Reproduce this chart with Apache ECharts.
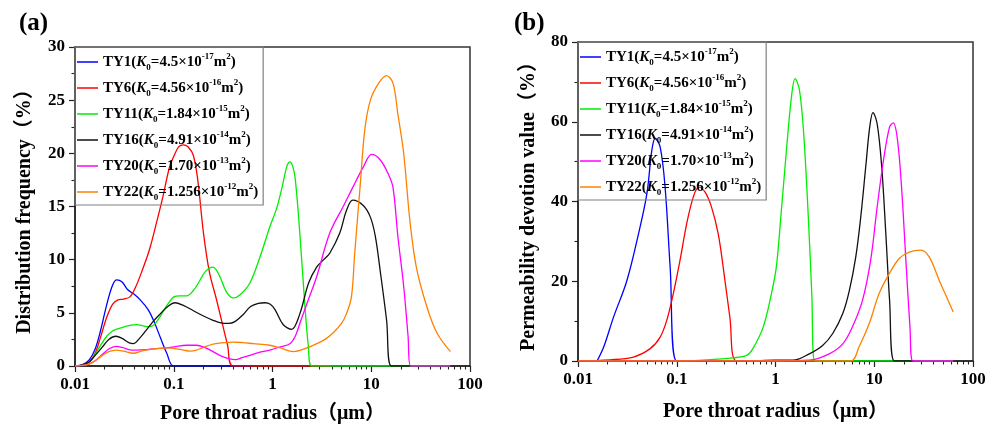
<!DOCTYPE html>
<html>
<head>
<meta charset="utf-8">
<script src="https://cdn.jsdelivr.net/npm/echarts@6/dist/echarts.min.js"></script>
<style>html,body{margin:0;padding:0;background:#fff}#c{width:997px;height:425px}</style>
</head>
<body>
<div id="c"></div>
<script>
// ---------- DATA ----------
const names = ['TY1', 'TY6', 'TY11', 'TY16', 'TY20', 'TY22'];
const legendK = {
  TY1: ['4.5', '-17'], TY6: ['4.56', '-16'], TY11: ['1.84', '-15'],
  TY16: ['4.91', '-14'], TY20: ['1.70', '-13'], TY22: ['1.256', '-12']
};
const xTickLabels = ['0.01', '0.1', '1', '10', '100'];
const minorXTicks = [0.02,0.03,0.04,0.05,0.06,0.07,0.08,0.09,0.2,0.3,0.4,0.5,0.6,0.7,0.8,0.9,2,3,4,5,6,7,8,9,20,30,40,50,60,70,80,90];

// (a) Distribution frequency (%)
const ty1A = [[0.01,0],[0.012,0.15],[0.014,0.6],[0.016,1.6],[0.018,3.2],[0.021,5.8],[0.024,7.6],[0.0265,8.1],[0.03,7.9],[0.034,7.2],[0.039,6.8],[0.046,6.2],[0.055,5.3],[0.063,4.2],[0.073,2.7],[0.085,1.2],[0.1,0],[0.2,0],[0.6,0]];
const ty6A = [[0.01,0],[0.012,0.1],[0.014,0.4],[0.016,1.2],[0.018,2.6],[0.021,4.6],[0.024,5.8],[0.027,6.2],[0.031,6.3],[0.036,6.5],[0.041,7.4],[0.048,9.0],[0.057,11.0],[0.067,13.5],[0.078,16.0],[0.09,18.6],[0.1,19.7],[0.112,20.6],[0.125,20.8],[0.14,20.6],[0.158,19.8],[0.175,17.5],[0.2,12.5],[0.23,8.8],[0.27,6.3],[0.31,4.0],[0.35,2.0],[0.4,0],[1,0],[4,0]];
const ty11A = [[0.01,0],[0.012,0.1],[0.014,0.4],[0.016,1.1],[0.018,1.9],[0.021,2.8],[0.024,3.3],[0.027,3.5],[0.032,3.7],[0.037,3.85],[0.042,3.9],[0.048,3.8],[0.055,3.7],[0.062,3.8],[0.07,4.4],[0.08,5.3],[0.09,6.0],[0.1,6.5],[0.115,6.6],[0.135,6.6],[0.158,7.1],[0.18,7.9],[0.21,8.9],[0.25,9.3],[0.29,8.5],[0.34,7.0],[0.4,6.4],[0.47,6.7],[0.59,7.8],[0.75,10.3],[0.94,13.1],[1.1,14.8],[1.25,16.8],[1.4,18.8],[1.5,19.2],[1.6,18.8],[1.7,17.6],[1.89,12.5],[2.12,5.9],[2.3,2.0],[2.5,0],[10,0],[63,0]];
const ty16A = [[0.01,0],[0.012,0.1],[0.014,0.4],[0.016,1.0],[0.019,1.8],[0.022,2.5],[0.026,2.8],[0.03,2.6],[0.035,2.2],[0.039,2.1],[0.045,2.6],[0.052,3.3],[0.062,4.2],[0.073,4.9],[0.087,5.6],[0.103,5.95],[0.125,5.7],[0.158,5.2],[0.2,4.7],[0.25,4.3],[0.3,4.05],[0.36,4.0],[0.42,4.2],[0.5,4.8],[0.6,5.6],[0.72,5.9],[0.84,5.95],[0.95,5.8],[1.06,5.3],[1.28,3.9],[1.56,3.45],[1.89,4.9],[2.32,7.8],[2.8,9.3],[3.3,10.0],[3.8,10.6],[4.8,12.5],[5.6,14.6],[6.5,15.6],[8.3,15.1],[9.8,14.0],[11.0,12.2],[12.3,9.0],[14.3,4.3],[16,0],[25,0]];
const ty20A = [[0.01,0],[0.012,0.05],[0.014,0.2],[0.016,0.5],[0.019,1.1],[0.022,1.6],[0.026,1.85],[0.03,1.75],[0.035,1.55],[0.042,1.5],[0.055,1.55],[0.073,1.65],[0.1,1.8],[0.135,1.95],[0.17,1.95],[0.21,1.7],[0.25,1.35],[0.3,0.95],[0.36,0.7],[0.42,0.6],[0.5,0.8],[0.59,1.0],[0.75,1.3],[0.94,1.5],[1.2,1.8],[1.5,2.1],[1.7,2.8],[1.89,4.0],[2.3,6.2],[2.8,8.4],[3.8,12.5],[5.2,15.0],[6.5,16.8],[8.3,18.7],[10.1,19.9],[12.3,19.4],[14.8,18.1],[16.6,16.8],[18.6,12.2],[21.3,7.5],[23.6,2.8],[25,0],[63,0]];
const ty22A = [[0.01,0],[0.012,0.05],[0.014,0.2],[0.016,0.5],[0.019,1.0],[0.022,1.35],[0.026,1.5],[0.031,1.4],[0.039,1.2],[0.047,1.4],[0.055,1.55],[0.07,1.65],[0.085,1.7],[0.1,1.65],[0.125,1.5],[0.146,1.4],[0.17,1.5],[0.2,1.75],[0.25,2.05],[0.32,2.2],[0.4,2.25],[0.5,2.2],[0.64,2.1],[0.94,1.95],[1.2,1.7],[1.63,1.35],[2.1,1.6],[2.8,2.1],[3.4,2.5],[4.1,3.1],[5.0,4.0],[5.6,4.9],[6.3,6.5],[6.8,10.6],[7.7,16.8],[8.6,22.2],[9.8,25.0],[11.9,26.6],[14.3,27.3],[16.6,26.6],[18.6,23.7],[21.3,20.0],[24.6,13.7],[28.6,9.3],[36.5,5.6],[46.3,3.1],[63.3,1.35]];

// (b) Permeability devotion value (%)
const ty1B = [[0.0156,0],[0.0182,3.5],[0.0229,11],[0.0313,20.2],[0.041,31.9],[0.0498,41.9],[0.0559,52.8],[0.0604,55.8],[0.0679,53.7],[0.0762,43.6],[0.0857,23.6],[0.1,0],[0.3,0]];
const ty6B = [[0.01,0],[0.021,0.3],[0.0365,1.0],[0.0538,3.1],[0.0679,6.0],[0.0792,10.2],[0.0923,16.9],[0.108,25.3],[0.126,34.4],[0.147,41.1],[0.167,43.6],[0.193,42.4],[0.225,38.6],[0.263,31.9],[0.295,23.6],[0.345,11.0],[0.403,0],[1,0]];
const ty11B = [[0.01,0],[0.1,0],[0.2,0.3],[0.37,0.8],[0.51,1.4],[0.59,3.1],[0.75,8.5],[0.91,16.9],[1.02,23.6],[1.14,37],[1.29,52.8],[1.45,66.2],[1.58,70.8],[1.75,67.9],[1.93,57],[2.15,36],[2.33,16.9],[2.5,0],[10,0],[63,0]];
const ty16B = [[0.01,0],[0.5,0],[1.0,0.2],[1.5,0.2],[2.2,1.8],[3.0,3.9],[3.8,6.9],[4.8,11.9],[5.6,17.7],[6.5,26.1],[7.3,36.1],[8.2,48.7],[9.0,58.7],[9.7,62.3],[10.7,59.5],[11.9,48.7],[13.1,31.9],[14.3,15.2],[16,0],[25,0]];
const ty20B = [[0.01,0],[1,0],[2.2,0.2],[3.5,1.8],[4.8,4.3],[6.0,8.5],[7.6,15.2],[9.2,25.3],[10.7,38.6],[12.4,50.3],[14.3,58.7],[15.6,59.7],[17.2,55.4],[18.9,43.6],[20.9,25.3],[23,8.5],[24.6,0],[63,0]];
const ty22B = [[0.01,0],[2,0],[5.8,0],[7.0,3.5],[8.9,9.4],[11.2,16.9],[14.2,21.9],[17.9,25.7],[22.6,27.3],[29.6,27.8],[36,26.1],[45.5,20.2],[56,15.2],[63,12.3]];

const seriesA = [ty1A, ty6A, ty11A, ty16A, ty20A, ty22A];
const seriesB = [ty1B, ty6B, ty11B, ty16B, ty20B, ty22B];
const colors = ['#0000ff', '#ff0000', '#00ee00', '#111111', '#ff00ff', '#ff8000'];

// ---------- CHART ----------
const FONT = '"Liberation Serif","Times New Roman","Noto Sans CJK SC",serif';
const chart = echarts.init(document.getElementById('c'), null, { renderer: 'canvas' });

const gridA = { left: 75, right: 527, top: 47, bottom: 59, outerBoundsMode: 'none', containLabel: false };
const gridB = { left: 578, right: 24, top: 42, bottom: 64, outerBoundsMode: 'none', containLabel: false };

function mainX(gi, nameGap) {
  return {
    type: 'log', logBase: 10, min: 0.01, max: 100, gridIndex: gi,
    name: 'Pore throat radius（μm）', nameLocation: 'middle', nameGap: nameGap,
    nameTextStyle: { fontFamily: FONT, fontWeight: 'bold', fontSize: 20, color: '#000' },
    axisLine: { show: true, lineStyle: { color: '#222', width: 1.5 } },
    axisTick: { show: true, inside: false, length: 6, lineStyle: { color: '#222', width: 1.2 } },
    minorTick: { show: false },
    axisLabel: {
      margin: 10, fontFamily: FONT, fontWeight: 'bold', fontSize: 17, color: '#000',
      formatter: function (v) {
        const idx = Math.round(Math.log10(v)) + 2;
        return xTickLabels[idx] !== undefined ? xTickLabels[idx] : '';
      }
    },
    splitLine: { show: false }
  };
}
function minorX(gi) {
  return {
    type: 'value', min: -2, max: 2, gridIndex: gi,
    axisLine: { show: false },
    axisTick: { show: true, inside: false, length: 3.5, customValues: minorXTicks.map(v => Math.log10(v)), lineStyle: { color: '#222', width: 1.1 } },
    axisLabel: { show: false },
    splitLine: { show: false }
  };
}
function mainY(gi, max, interval, name, nameGap) {
  return {
    type: 'value', min: 0, max: max, interval: interval, gridIndex: gi,
    name: name, nameLocation: 'middle', nameGap: nameGap,
    nameTextStyle: { fontFamily: FONT, fontWeight: 'bold', fontSize: 20, color: '#000' },
    axisLine: { show: true, lineStyle: { color: '#222', width: 1.5 } },
    axisTick: { show: true, inside: false, length: 6, lineStyle: { color: '#222', width: 1.2 } },
    minorTick: { show: true, splitNumber: 2, length: 3.5, lineStyle: { color: '#222', width: 1.1 } },
    axisLabel: { margin: 10, fontFamily: FONT, fontWeight: 'bold', fontSize: 17, color: '#000' },
    splitLine: { show: false }
  };
}
function hiddenY(gi) {
  return { type: 'value', min: 0, max: 1, gridIndex: gi, show: false };
}

const rich = {
  n: { fontFamily: FONT, fontWeight: 'bold', fontSize: 15, lineHeight: 20, color: '#000' },
  k: { fontFamily: FONT, fontWeight: 'bold', fontStyle: 'italic', fontSize: 15, lineHeight: 20, color: '#000' },
  sb: { fontFamily: FONT, fontWeight: 'bold', fontSize: 9, lineHeight: 9, verticalAlign: 'bottom', color: '#000' },
  sp: { fontFamily: FONT, fontWeight: 'bold', fontSize: 9, lineHeight: 9, verticalAlign: 'top', color: '#000' }
};
function legendFmt(name) {
  const k = legendK[name];
  return '{n|' + name + '(}{k|K}{sb|0}{n|=' + k[0] + '×10}{sp|' + k[1] + '}{n|m}{sp|2}{n|)}';
}
function legendAt(left, top) {
  return {
    data: names, orient: 'vertical', left: left, top: top,
    icon: 'rect', itemWidth: 21, itemHeight: 1.5, itemGap: 6,
    padding: [5, 5, 3, 2],
    borderColor: '#808080', borderWidth: 1.2, backgroundColor: 'transparent',
    formatter: legendFmt,
    textStyle: { rich: rich }
  };
}

const series = [];
seriesA.forEach(function (d, i) {
  series.push({ name: names[i], type: 'line', xAxisIndex: 0, yAxisIndex: 0, data: d,
    smooth: 0.35, showSymbol: false, symbol: 'none', color: colors[i],
    lineStyle: { width: 1.3, color: colors[i] } });
});
seriesB.forEach(function (d, i) {
  series.push({ name: names[i], type: 'line', xAxisIndex: 2, yAxisIndex: 2, data: d,
    smooth: 0.35, showSymbol: false, symbol: 'none', color: colors[i],
    lineStyle: { width: 1.3, color: colors[i] } });
});

const option = {
  animation: false,
  backgroundColor: '#fff',
  title: [
    { text: '(a)', left: 14, top: 6, textStyle: { fontFamily: FONT, fontWeight: 'bold', fontSize: 25, color: '#000' } },
    { text: '(b)', left: 509, top: 6, textStyle: { fontFamily: FONT, fontWeight: 'bold', fontSize: 25, color: '#000' } }
  ],
  grid: [
    Object.assign({ show: true, borderColor: '#333', borderWidth: 1.5, backgroundColor: 'transparent' }, gridA),
    Object.assign({ show: false }, gridA),
    Object.assign({ show: true, borderColor: '#333', borderWidth: 1.5, backgroundColor: 'transparent' }, gridB),
    Object.assign({ show: false }, gridB)
  ],
  xAxis: [mainX(0, 38), minorX(1), mainX(2, 41), minorX(3)],
  yAxis: [
    mainY(0, 30, 5, 'Distribution frequency（%）', 40),
    hiddenY(1),
    mainY(2, 80, 20, 'Permeability devotion value（%）', 39),
    hiddenY(3)
  ],
  legend: [legendAt(75, 47), legendAt(578, 42)],
  series: series
};
chart.setOption(option);
</script>
</body>
</html>
